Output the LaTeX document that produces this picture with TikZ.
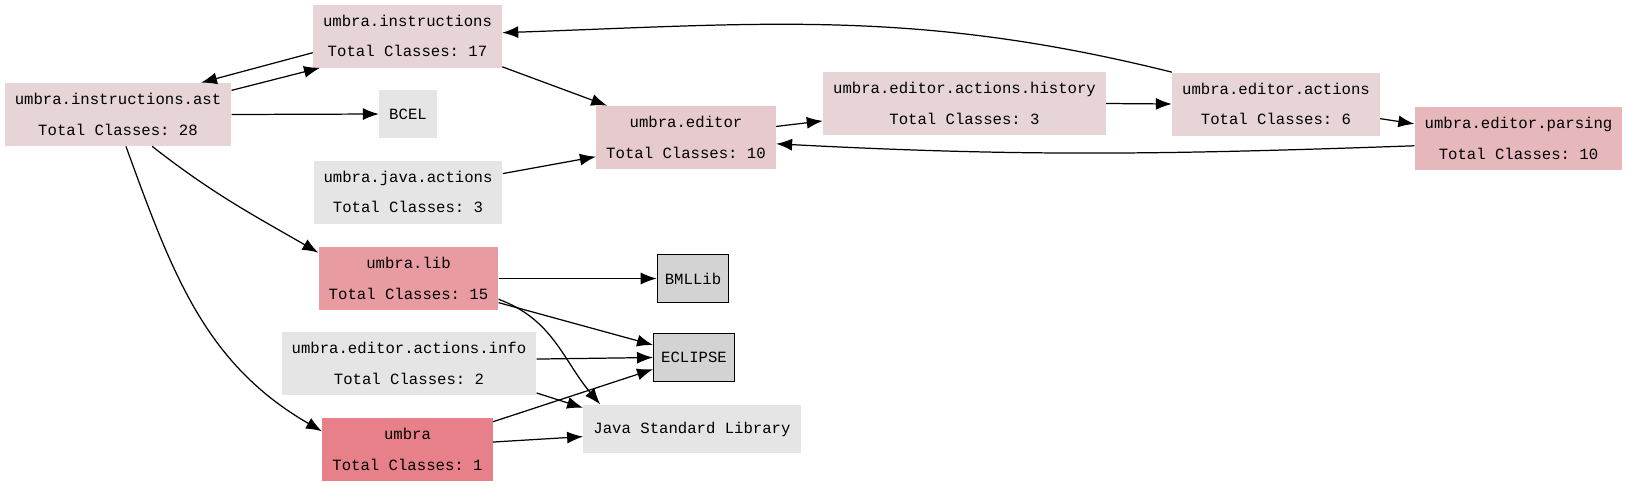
\documentclass[tikz,border=0pt]{standalone}
\usepackage{fontspec}
\setmonofont{Liberation Mono}
\usepackage{tikz}
\usetikzlibrary{arrows.meta}

\definecolor{pkgpale}{HTML}{E6D4D6}
\definecolor{pkgeditor}{HTML}{E6CACD}
\definecolor{pkgparsing}{HTML}{E6B8BB}
\definecolor{pkglib}{HTML}{E89CA2}
\definecolor{pkgumbra}{HTML}{E8808A}
\definecolor{extgray}{HTML}{E5E5E5}
\definecolor{jargray}{HTML}{D3D3D3}

\begin{document}
\begin{tikzpicture}[
            x=0.02cm,y=-0.02cm,
            pkg/.style={fill=#1,minimum height=1.26cm,inner xsep=0.2cm,inner ysep=0.1cm,align=center,
                        font={\ttfamily\fontsize{8.9}{17.5}\selectfont}},
            ext/.style={fill=extgray,minimum height=0.97cm,inner xsep=0.2cm,inner ysep=0.1cm,
                        font={\ttfamily\fontsize{8.9}{10}\selectfont}},
            jar/.style={ext,fill=jargray,draw=black,line width=0.7pt,inner xsep=0.15cm},
            dep/.style={every edge/.style={draw,-{Latex[length=0.32cm,width=0.24cm]},line width=0.7pt}}
          ]
          \useasboundingbox (0,0) rectangle (1651,485);

          % packages
          \node[pkg=pkgpale] (instr) at (407.5,36) {umbra.instructions\\Total Classes: 17};
          \node[pkg=pkgpale] (ast) at (118,114.5) {umbra.instructions.ast\\Total Classes: 28};
          \node[pkg=extgray] (javaact) at (408,192) {umbra.java.actions\\Total Classes: 3};
          \node[pkg=pkglib] (lib) at (408.5,278.5) {umbra.lib\\Total Classes: 15};
          \node[pkg=extgray] (info) at (409,363.5) {umbra.editor.actions.info\\Total Classes: 2};
          \node[pkg=pkgumbra] (umbra) at (407.5,449.5) {umbra\\Total Classes: 1};
          \node[pkg=pkgeditor] (editor) at (686,137.5) {umbra.editor\\Total Classes: 10};
          \node[pkg=pkgpale] (history) at (964.5,103.5) {umbra.editor.actions.history\\Total Classes: 3};
          \node[pkg=pkgpale] (actions) at (1276,104) {umbra.editor.actions\\Total Classes: 6};
          \node[pkg=pkgparsing] (parsing) at (1518.5,138.5) {umbra.editor.parsing\\Total Classes: 10};

          % libraries
          \node[ext] (bcel) at (408,114) {BCEL};
          \node[jar] (bmllib) at (693,278.5) {BMLLib};
          \node[jar] (eclipse) at (694,357.5) {ECLIPSE};
          \node[ext] (jsl) at (692,429) {Java Standard Library};

          % dependencies
          \path[dep]
          (instr.190) edge (ast.21)
          (ast.12) edge (instr.200)
          (ast.east) edge (bcel.west)
          (ast.-43) edge[out=-38,in=150] (lib.164)
          (ast.-76) edge[out=-70,in=150] (umbra.168)
          (instr.-18) edge (editor.158)
          (javaact.11) edge (editor.192)
          (editor.7) edge (history.187)
          (history.east) edge (actions.west)
          (actions.163) edge[out=166,in=2] (instr.2)
          (actions.-8) edge (parsing.172)
          (parsing.184) edge[out=182,in=-3] (editor.-4)
          (lib.east) edge (bmllib.west)
          (lib.-15) edge (eclipse.163)
          (lib.-13) edge[out=-20,in=130] (jsl.165)
          (info.2) edge (eclipse.west)
          (info.-13) edge (jsl.169)
          (umbra.18) edge (eclipse.196)
          (umbra.5) edge (jsl.184)
          ;
\end{tikzpicture}
\end{document}
